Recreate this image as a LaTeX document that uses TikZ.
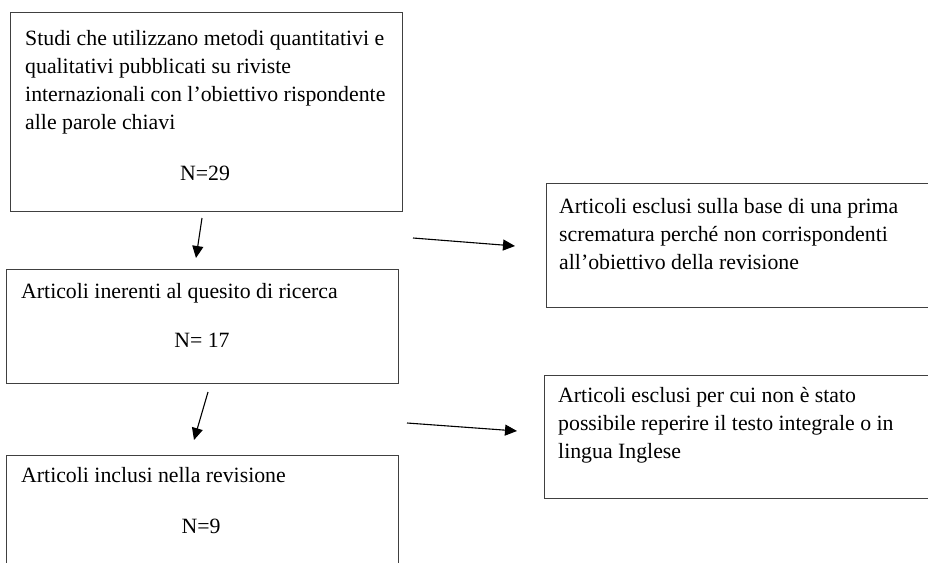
\documentclass[tikz,border=0pt]{standalone}
\usepackage{fontspec}
\setmainfont{Liberation Serif}
\usetikzlibrary{arrows.meta}

\tikzset{
  riquadro/.style={draw=black!75, line width=1pt, inner sep=0pt, anchor=north west},
  testo/.style={anchor=base west, align=left, inner sep=0pt, font=\fontsize{21.8}{28}\selectfont},
  numero/.style={anchor=base, inner sep=0pt, font=\fontsize{21.8}{28}\selectfont},
  freccia/.style={line width=1.1pt, -{Triangle[length=12pt,width=11pt]}}
}

\begin{document}
\begin{tikzpicture}[x=1pt,y=-1pt]
    \useasboundingbox (0,0) rectangle (928,562);
    \clip (0,0) rectangle (928,562);

    % riquadri a sinistra
    \node[riquadro, minimum width=392pt, minimum height=199pt] (studi) at (10,12) {};
    \node[riquadro, minimum width=392pt, minimum height=114pt] (inerenti) at (6,269) {};
    \node[riquadro, minimum width=392pt, minimum height=130pt] (inclusi) at (6,455) {};

    % riquadri a destra
    \node[riquadro, minimum width=400pt, minimum height=124pt] (esclusiA) at (546,183) {};
    \node[riquadro, minimum width=400pt, minimum height=123pt] (esclusiB) at (544,375) {};

    % testi (la base e' quella dell'ultima riga)
    \node[testo] (studitesto) at (25,129) {Studi che utilizzano metodi quantitativi e\\qualitativi pubblicati su riviste\\internazionali con l’obiettivo rispondente\\alle parole chiavi};
    \node[numero] (n29) at (205,180) {N=29};

    \node[testo] (inerentitesto) at (21,298) {Articoli inerenti al quesito di ricerca};
    \node[numero] (n17) at (202,347) {N= 17};

    \node[testo] (inclusitesto) at (21,482) {Articoli inclusi nella revisione};
    \node[numero] (n9) at (201,533) {N=9};

    \node[testo] (esclusiAtesto) at (559,269) {Articoli esclusi sulla base di una prima\\scrematura perché non corrispondenti\\all’obiettivo della revisione};
    \node[testo] (esclusiBtesto) at (558,458) {Articoli esclusi per cui non è stato\\possibile reperire il testo integrale o in\\lingua Inglese};

    % frecce
    \coordinate (f1a) at (202,218);
    \coordinate (f1b) at (196,258);
    \coordinate (f2a) at (208,392);
    \coordinate (f2b) at (194,440);
    \coordinate (f3a) at (413,238);
    \coordinate (f3b) at (515,246);
    \coordinate (f4a) at (407,423);
    \coordinate (f4b) at (517,431);

    \draw[freccia] (f1a) -- (f1b);
    \draw[freccia] (f2a) -- (f2b);
    \draw[freccia] (f3a) -- (f3b);
    \draw[freccia] (f4a) -- (f4b);

\end{tikzpicture}
\end{document}
